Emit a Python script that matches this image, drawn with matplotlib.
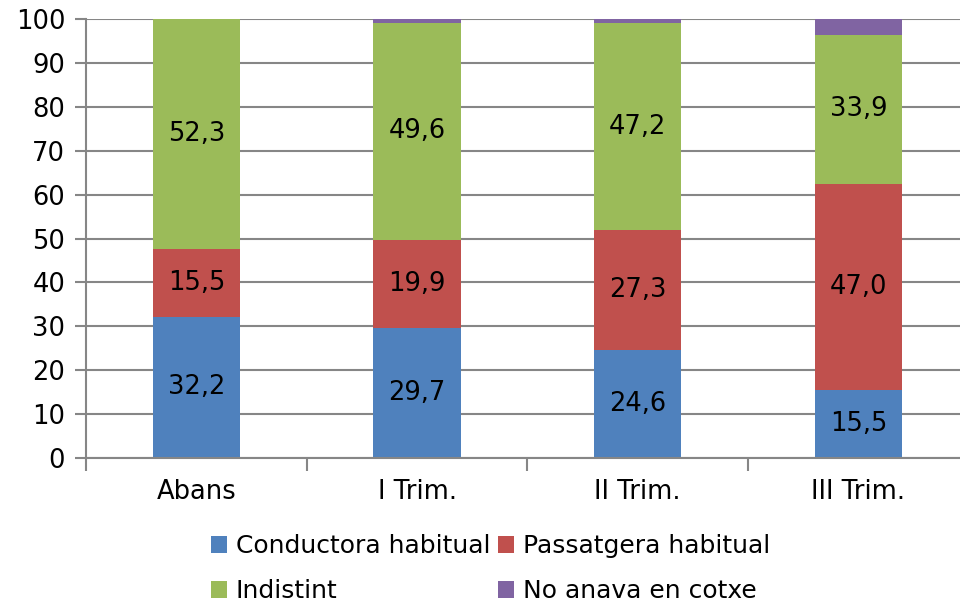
import matplotlib.pyplot as plt
import numpy as np

plt.rcParams['font.family'] = ['DejaVu Sans']

categories = ['Abans', 'I Trim.', 'II Trim.', 'III Trim.']
conductora = [32.2, 29.7, 24.6, 15.5]
passatgera = [15.5, 19.9, 27.3, 47.0]
indistint = [52.3, 49.6, 47.2, 33.9]
no_anava = [0.0, 0.8, 0.9, 3.6]

series = [
    ('Conductora habitual', conductora, '#4F81BD', True),
    ('Passatgera habitual', passatgera, '#C0504D', True),
    ('Indistint', indistint, '#9BBB59', True),
    ('No anava en cotxe', no_anava, '#8064A2', False),
]

fig = plt.figure(figsize=(9.6, 6.06), dpi=100)
W, H = 960, 606
left, right, top, bottom = 86, 960, 19, 458
ax = fig.add_axes([left / W, 1 - bottom / H, (right - left) / W, (bottom - top) / H])

cat_w = 220.7
x = np.arange(len(categories))
bar_w = 0.395
grid_c = '#868686'

ax.set_ylim(0, 100)
ax.set_xlim(-0.5, -0.5 + (right - left) / cat_w)
ax.set_yticks(range(0, 101, 10))
ax.yaxis.grid(True, color=grid_c, linewidth=1.5)
ax.set_axisbelow(True)

base = np.zeros(len(categories))
handles = {}
for name, vals, col, show in series:
    vals = np.array(vals)
    b = ax.bar(x, vals, bar_w, bottom=base, color=col, label=name, zorder=2)
    handles[name] = b
    if show:
        for xi, v, b0 in zip(x, vals, base):
            if v > 0:
                ax.text(xi, b0 + v / 2, f'{v:.1f}'.replace('.', ','),
                        ha='center', va='center', fontsize=18.5, color='black', zorder=3)
    base = base + vals

for s in ['top', 'right']:
    ax.spines[s].set_visible(False)
for s in ['left', 'bottom']:
    ax.spines[s].set_color(grid_c)
    ax.spines[s].set_linewidth(1.5)

ax.set_xticks(x)
ax.set_xticklabels(categories, fontsize=18.5)
ax.tick_params(axis='x', length=0, pad=15)
ax.set_xticks([-0.5, 0.5, 1.5, 2.5], minor=True)
ax.tick_params(axis='x', which='minor', length=9, width=1.5, color=grid_c)
ax.tick_params(axis='y', length=8, width=1.5, color=grid_c, labelsize=18.5, pad=7)

order = ['Conductora habitual', 'Indistint', 'Passatgera habitual', 'No anava en cotxe']
fig.legend([handles[n] for n in order], order, ncol=2, loc='upper left',
           bbox_to_anchor=(211 / W, 1 - 534 / H), frameon=False, fontsize=18,
           handlelength=0.65, handleheight=0.65, handletextpad=0.35,
           columnspacing=0.3, labelspacing=0.85, borderaxespad=0, borderpad=0)

fig.savefig('out.png', dpi=100)
